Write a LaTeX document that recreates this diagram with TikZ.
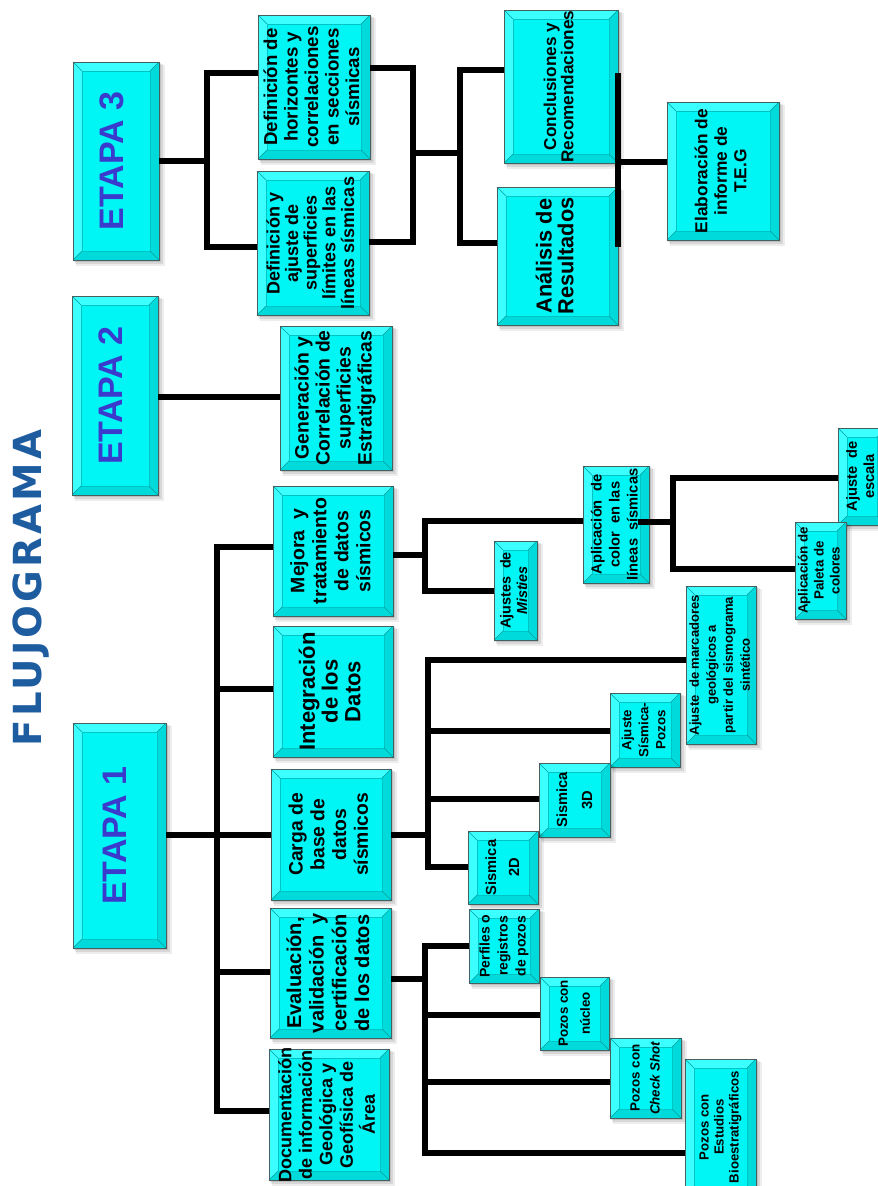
\documentclass[tikz,border=0pt]{standalone}
\usepackage{fontspec}
\setmainfont{Liberation Sans}
\newfontfamily\titlefont[LetterSpace=8]{DejaVu Sans}
\usetikzlibrary{calc}
\definecolor{boxc}{RGB}{0,245,245}
\definecolor{bevl}{RGB}{60,255,255}
\definecolor{bevd}{RGB}{0,218,218}
\definecolor{innerc}{RGB}{0,196,196}
\definecolor{edgec}{RGB}{70,95,95}
\definecolor{etapablue}{RGB}{58,58,205}
\definecolor{titleblue}{RGB}{30,92,160}
\newcommand\bxfs[2]{\fontsize{#1}{#2}\selectfont\bfseries}
\tikzset{
  bx/.style={rotate=90, draw=edgec, line width=0.7pt, inner sep=0pt, outer sep=0pt, text=black},
  etapa/.style={font=\bxfs{25.5}{28}, text=etapablue},
  conn/.style={line width=3.9pt, black, line join=miter},
}
\newcommand\bevbox[7]{%
  \fill[black,opacity=0.07] (#2+3,#3+3) rectangle (#4+6,#5+6);
  \fill[black,opacity=0.09] (#2+2,#3+2) rectangle (#4+4,#5+4);
  \fill[black,opacity=0.11] (#2+1,#3+1) rectangle (#4+2,#5+2);
  \fill[boxc] (#2,#3) rectangle (#4,#5);
  \fill[bevl] (#2,#3) -- (#4,#3) -- (#4-9,#3+9) -- (#2+9,#3+9) -- (#2+9,#5-9) -- (#2,#5) -- cycle;
  \fill[bevd] (#4,#3) -- (#4,#5) -- (#2,#5) -- (#2+9,#5-9) -- (#4-9,#5-9) -- (#4-9,#3+9) -- cycle;
  \draw[innerc,line width=0.5pt] (#2+9,#3+9) rectangle (#4-9,#5-9);
  \draw[innerc!80!black,line width=0.3pt] (#2,#3) -- (#2+9,#3+9) (#4,#3) -- (#4-9,#3+9) (#4,#5) -- (#4-9,#5-9) (#2,#5) -- (#2+9,#5-9);
  \node[bx,#6,minimum width={(#5-#3)*0.75pt},minimum height={(#4-#2)*0.75pt}] (#1) at ({(#2+#4)/2},{(#3+#5)/2}) {\makebox[0pt]{\begin{tabular}{@{}c@{}}#7\end{tabular}}};
}
\begin{document}
\begin{tikzpicture}[x=0.75pt,y=-0.75pt]
\useasboundingbox (0,0) rectangle (878,1186);
\clip (0,0) rectangle (878,1186);
\fill[white] (0,0) rectangle (878,1186);

% title
\node[rotate=90, text=titleblue, font=\titlefont\bfseries\fontsize{29}{30}\selectfont] (title) at (31,588) {FLUJOGRAMA};

% ETAPA boxes
\bevbox{e3}{73}{62}{159}{260}{etapa}{ETAPA 3}
\bevbox{e2}{72}{296}{158}{495}{etapa}{ETAPA 2}
\bevbox{e1}{73}{723}{166}{948}{etapa}{ETAPA 1}

% etapa 3
\bevbox{dh}{258}{15}{370}{159}{font=\bxfs{14}{15.4}}{Definición de\\horizontes y\\correlaciones\\en secciones\\sísmicas}
\bevbox{da}{257}{171}{369}{315}{font=\bxfs{13.5}{13.7}}{Definición y\\ajuste de\\superficies\\límites en las\\líneas sísmicas}
\bevbox{cr}{504}{10}{618}{163}{font=\bxfs{12.9}{12.5}}{Conclusiones y\\Recomendaciones}
\bevbox{an}{497}{187}{618}{325}{font=\bxfs{16.3}{15}}{Análisis de\\Resultados}
\bevbox{el}{667}{102}{779}{240}{font=\bxfs{13}{14.6}}{Elaboración de\\informe de\\T.E.G}

% etapa 2
\bevbox{gen}{280}{326}{392}{470}{font=\bxfs{14.5}{15.75}}{Generación y\\Correlación de\\superficies\\Estratigráficas}

% etapa 1
\bevbox{mej}{273}{486}{393}{616}{font=\bxfs{14.6}{16.5}}{Mejora~~y\\tratamiento\\de datos\\sísmicos}
\bevbox{int}{273}{626}{393}{757}{font=\bxfs{16.5}{17}}{Integración\\de los\\Datos}
\bevbox{carga}{271}{769}{391}{900}{font=\bxfs{14.5}{16.3}}{Carga de\\base de\\datos\\sísmicos}
\bevbox{eva}{270}{908}{391}{1038}{font=\bxfs{15}{17}}{Evaluación,\\validación~~y\\certificación\\de los datos}
\bevbox{doc}{269}{1049}{389}{1180}{font=\bxfs{13.5}{15.4}}{Documentación\\de información\\Geológica y\\Geofísica de\\Área}

\bevbox{apc}{583}{466}{649}{583}{font=\bxfs{11}{13.5}}{Aplicación~~de\\color~~en las\\líneas~~sísmicas}
\bevbox{mis}{494}{541}{537}{640}{font=\bxfs{10.8}{12.5}}{Ajustes~~de\\\textit{Misties}}
\bevbox{esc}{838}{428}{886}{525}{font=\bxfs{11}{13}}{Ajuste~~de\\escala}
\bevbox{pal}{795}{522}{846}{619}{font=\bxfs{10}{12}}{Aplicación de\\Paleta de\\colores}

\bevbox{mar}{686}{586}{756}{744}{font=\bxfs{9.8}{12.75}}{Ajuste~~de marcadores\\geológicos a\\partir del sismograma\\sintético}
\bevbox{sp}{610}{693}{680}{767}{font=\bxfs{10}{12.75}}{Ajuste\\Sísmica-\\Pozos}
\bevbox{s3d}{539}{763}{610}{837}{font=\bxfs{11}{18.75}}{Sismica\\3D}
\bevbox{s2d}{468}{831}{538}{904}{font=\bxfs{11}{17.25}}{Sismica\\2D}

\bevbox{per}{469}{909}{539}{983}{font=\bxfs{10.5}{13.5}}{Perfiles o\\registros\\de pozos}
\bevbox{nuc}{540}{977}{609}{1050}{font=\bxfs{10}{16.5}}{Pozos con\\núcleo}
\bevbox{chk}{610}{1038}{681}{1118}{font=\bxfs{10}{15}}{Pozos con\\\textit{Check Shot}}
\bevbox{bio}{685}{1059}{756}{1195}{font=\bxfs{9.9}{11.25}}{Pozos con\\Estudios\\Bioestratigráficos}

% junction points
\coordinate (j3a) at (207,160);
\coordinate (j3b) at (413,153);
\coordinate (j3c) at (460,153);
\coordinate (t1) at (217,835);
\coordinate (m1) at (425,555);
\coordinate (a1) at (673,522);
\coordinate (c1) at (428,835);
\coordinate (v1) at (425,979);

% ETAPA 3 connectors
\draw[conn] (e3.south) -- (e3.south -| j3a);
\draw[conn] (dh.north |- 0,73) -| (j3a) |- (da.north |- 0,247);
\draw[conn] (dh.south |- 0,68) -| (j3b) |- (da.south |- 0,242);
\draw[conn] (j3b) -- (j3c);
\draw[conn] (cr.north |- 0,70) -| (j3c) |- (an.north |- 0,243);
\draw[conn] (cr.south |- 0,73) -- (an.south |- 0,247);
\draw[conn] (cr.south |- 0,162) -- (el.north |- 0,162);

% ETAPA 2 connector
\draw[conn] (e2.south |- 0,397) -- (gen.north |- 0,397);

% ETAPA 1 connectors
\draw[conn] (e1.south |- t1) -- (carga.north |- t1);
\draw[conn] (mej.north |- 0,547) -| (t1) |- (doc.north |- 0,1111);
\draw[conn] (int.north |- 0,689) -- (t1 |- 0,689);
\draw[conn] (eva.north |- 0,972) -- (t1 |- 0,972);

% Mejora branch
\draw[conn] (mej.south |- m1) -- (m1);
\draw[conn] (apc.north |- 0,521) -| (m1) |- (mis.north |- 0,591);
\draw[conn] ($(apc.south |- a1)+(-11,0)$) -- (a1);
\draw[conn] (esc.north |- 0,478) -| (a1) |- (pal.north |- 0,569);

% Carga branch
\draw[conn] (carga.south |- c1) -- (c1);
\draw[conn] (mar.north |- 0,660) -| (c1) |- (s2d.north |- 0,867);
\draw[conn] (sp.north |- 0,731) -- (c1 |- 0,731);
\draw[conn] (s3d.north |- 0,799) -- (c1 |- 0,799);

% Evaluacion branch
\draw[conn] (eva.south |- v1) -- (v1);
\draw[conn] (per.north |- 0,946) -| (v1) |- (bio.north |- 0,1153);
\draw[conn] (nuc.north |- 0,1015) -- (v1 |- 0,1015);
\draw[conn] (chk.north |- 0,1082) -- (v1 |- 0,1082);
\end{tikzpicture}
\end{document}
